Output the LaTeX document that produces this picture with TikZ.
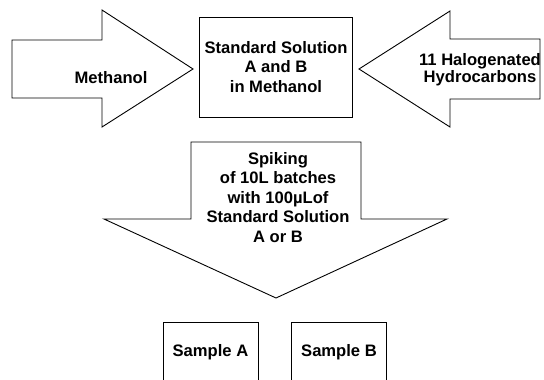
\documentclass[tikz,border=0pt]{standalone}
\usepackage{fontspec}
\setmainfont{Liberation Sans}
\usepackage{tikz}

\begin{document}
\begin{tikzpicture}[x=1pt,y=-1pt,line width=0.9pt,
  txt/.style={font=\bfseries\fontsize{16.6}{19.5}\selectfont,align=center,inner sep=0pt}]
 \useasboundingbox (0,0) rectangle (544,380);
 \clip (0,0) rectangle (544,380);

 % arrow from the left
 \draw (12,40) -- (102,40) -- (102,10) -- (193,69) -- (102,127) -- (102,98) -- (12,98) -- cycle;
 \node[txt] (meth) at (111,78) {Methanol};

 % arrow from the right
 \draw (540,39) -- (450,39) -- (450,11) -- (359,69) -- (450,127) -- (450,99) -- (540,99) -- cycle;
 \node[txt,font=\bfseries\fontsize{16.6}{17}\selectfont] (halo) at (480,70) {11 Halogenated\\Hydrocarbons};

 % standard solution
 \node[draw,txt,minimum width=153pt,minimum height=100pt] (std) at (275.5,67) {};
 \node[txt] (stdtext) at (276,67) {Standard Solution\\A and B\\in Methanol};

 % big arrow down
 \draw (191,142) -- (361,142) -- (361,219) -- (447,219) -- (276,298) -- (104,219) -- (191,219) -- cycle;
 \node[txt] (spike) at (278,197.5) {Spiking\\of 10L batches\\with 100µLof\\Standard Solution\\A or B};

 % samples
 \draw (163,385) -- (163,322) -- (258,322) -- (258,385);
 \node[txt] (sA) at (210.5,352) {Sample A};
 \draw (291,385) -- (291,322) -- (386,322) -- (386,385);
 \node[txt] (sB) at (339,352) {Sample B};

\end{tikzpicture}
\end{document}
